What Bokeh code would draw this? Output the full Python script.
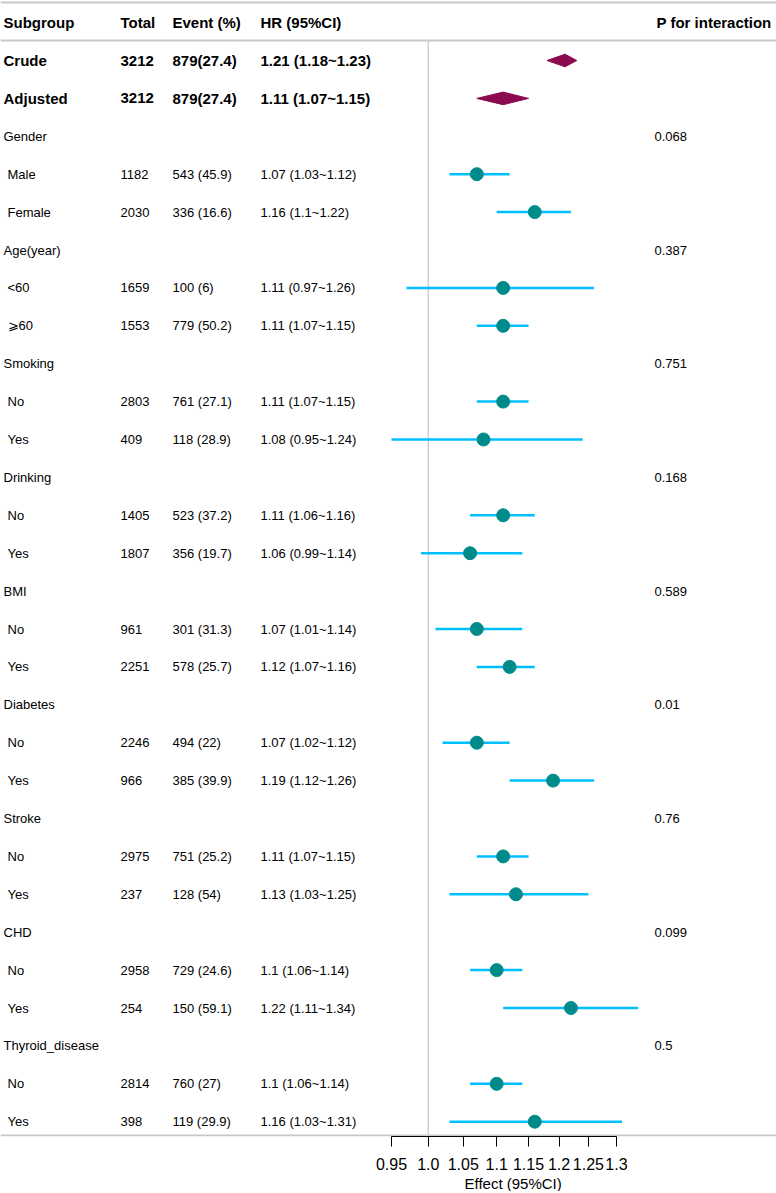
import math
from bokeh.plotting import figure
from bokeh.models import (Range1d, LogScale, LogAxis, FixedTicker,
                          CustomJSTickFormatter, ColumnDataSource, Title)
from bokeh.core.properties import value
from bokeh.embed import file_html
from bokeh.resources import INLINE

# ---------------- data ----------------
subgroups = ["Crude", "Adjusted", "Gender", "Male", "Female", "Age(year)", "<60", "\u2a7e60",
             "Smoking", "No", "Yes", "Drinking", "No", "Yes", "BMI", "No", "Yes",
             "Diabetes", "No", "Yes", "Stroke", "No", "Yes", "CHD", "No", "Yes",
             "Thyroid_disease", "No", "Yes"]
totals = ["3212", "3212", "", "1182", "2030", "", "1659", "1553", "", "2803", "409", "",
          "1405", "1807", "", "961", "2251", "", "2246", "966", "", "2975", "237", "",
          "2958", "254", "", "2814", "398"]
events = ["879(27.4)", "879(27.4)", "", "543 (45.9)", "336 (16.6)", "", "100 (6)", "779 (50.2)", "",
          "761 (27.1)", "118 (28.9)", "", "523 (37.2)", "356 (19.7)", "", "301 (31.3)", "578 (25.7)", "",
          "494 (22)", "385 (39.9)", "", "751 (25.2)", "128 (54)", "", "729 (24.6)", "150 (59.1)", "",
          "760 (27)", "119 (29.9)"]
hr = [1.21, 1.11, None, 1.07, 1.16, None, 1.11, 1.11, None, 1.11, 1.08, None, 1.11, 1.06, None,
      1.07, 1.12, None, 1.07, 1.19, None, 1.11, 1.13, None, 1.1, 1.22, None, 1.1, 1.16]
ci_low = [1.18, 1.07, None, 1.03, 1.1, None, 0.97, 1.07, None, 1.07, 0.95, None, 1.06, 0.99, None,
          1.01, 1.07, None, 1.02, 1.12, None, 1.07, 1.03, None, 1.06, 1.11, None, 1.06, 1.03]
ci_high = [1.23, 1.15, None, 1.12, 1.22, None, 1.26, 1.15, None, 1.15, 1.24, None, 1.16, 1.14, None,
           1.14, 1.16, None, 1.12, 1.26, None, 1.15, 1.25, None, 1.14, 1.34, None, 1.14, 1.31]
p_interaction = ["", "", "0.068", "", "", "0.387", "", "", "0.751", "", "", "0.168", "", "",
                 "0.589", "", "", "0.01", "", "", "0.76", "", "", "0.099", "", "", "0.5", "", ""]
overall_rows = ["Crude", "Adjusted"]
headers = ["Subgroup", "Total", "Event (%)", "HR (95%CI)", "P for interaction"]
tick_labels = ["0.95", "1.0", "1.05", "1.1", "1.15", "1.2", "1.25", "1.3"]
axis_title = "Effect (95%CI)"

# ---------------- layout ----------------
W = 776
FRAME_H = 1136
ROW0_PX = 60.0
ROW_STEP = 37.9
PX_PER_LN = 717.3
REF_PX = 427.8
FONT = "Liberation Sans"

def row_of_px(px):
    return (px - ROW0_PX) / ROW_STEP

n = len(subgroups)
rows = list(range(n))
tick_values = [float(t) for t in tick_labels]

p = figure(frame_width=W, frame_height=FRAME_H,
           x_range=Range1d(0, W),
           y_range=Range1d(row_of_px(FRAME_H), row_of_px(0)),
           output_backend="svg", toolbar_location=None,
           x_axis_location=None, y_axis_location=None,
           min_border=0, outline_line_color=None)
p.xgrid.visible = False
p.ygrid.visible = False
p.extra_x_ranges = {"hr": Range1d(math.exp(-REF_PX / PX_PER_LN),
                                  math.exp((W - REF_PX) / PX_PER_LN))}
p.extra_x_scales = {"hr": LogScale()}

GRAY = "#c8c8c8"
# horizontal rules
p.segment(x0=[0, 0, 0], x1=[W, W, W],
          y0=[row_of_px(2), row_of_px(40), row_of_px(1135)],
          y1=[row_of_px(2), row_of_px(40), row_of_px(1135)],
          line_color=GRAY, line_width=2.2)
# reference line at HR = 1
p.segment(x0=[1.0], x1=[1.0], y0=[row_of_px(40)], y1=[row_of_px(1136)],
          x_range_name="hr", line_color="#d0d0d0", line_width=1.5)

# CI lines & points (subgroup rows)
sub_idx = [i for i in rows if hr[i] is not None and subgroups[i] not in overall_rows]
src = ColumnDataSource(dict(y=[i for i in sub_idx], hr=[hr[i] for i in sub_idx],
                            lo=[ci_low[i] for i in sub_idx], hi=[ci_high[i] for i in sub_idx]))
p.segment(x0="lo", x1="hi", y0="y", y1="y", source=src, x_range_name="hr",
          line_color="#00BFFF", line_width=2.5)
p.scatter(x="hr", y="y", source=src, x_range_name="hr", size=13,
          fill_color="#008B8B", line_color="#008B8B")

# diamonds for overall rows
ov_idx = [i for i in rows if subgroups[i] in overall_rows]
hh = 6.3 / ROW_STEP
p.patches(xs=[[ci_low[i], hr[i], ci_high[i], hr[i]] for i in ov_idx],
          ys=[[i, i - hh, i, i + hh] for i in ov_idx],
          x_range_name="hr", fill_color="#8B0A50", line_color="#8B0A50")

# table text
hr_text = ["" if hr[i] is None else f"{hr[i]} ({ci_low[i]}~{ci_high[i]})" for i in rows]
COLS = [3, 120, 172, 260]

def add_text(xs, ys, texts, bold, size, align="left"):
    p.text(x=xs, y=ys, text=texts, text_font=value(FONT),
           text_font_style="bold" if bold else "normal",
           text_font_size=size, text_baseline="middle", text_align=align,
           text_color="black")

# header
add_text(COLS, [-1] * 4, headers[:4], True, "15px")
add_text([771], [-1], [headers[4]], True, "15px", align="right")

# overall rows (bold)
for i in ov_idx:
    add_text(COLS, [i] * 4, [subgroups[i], totals[i], events[i], hr_text[i]], True, "15px")

# other rows
norm_idx = [i for i in rows if i not in ov_idx]
sx, sy, st = [], [], []
for i in norm_idx:
    indent = 4 if totals[i] else 0
    sx.append(COLS[0] + indent); sy.append(i); st.append(subgroups[i])
    if totals[i]:
        for c, txt in zip(COLS[1:], [totals[i], events[i], hr_text[i]]):
            sx.append(c); sy.append(i); st.append(txt)
add_text(sx, sy, st, False, "13px")
p_idx = [i for i in rows if p_interaction[i]]
add_text([654] * len(p_idx), p_idx, [p_interaction[i] for i in p_idx], False, "13px")

# axis
fmt = CustomJSTickFormatter(args=dict(vals=tick_values, labs=tick_labels), code="""
const i = vals.findIndex(v => Math.abs(v - tick) < 1e-9);
return i >= 0 ? labs[i] : '';
""")
ax = LogAxis(x_range_name="hr", ticker=FixedTicker(ticks=tick_values), formatter=fmt,
             bounds=(tick_values[0], tick_values[-1]),
             axis_line_color="black", axis_line_width=1,
             major_tick_line_color="black", major_tick_in=0, major_tick_out=10,
             minor_tick_line_color=None, major_label_standoff=11,
             major_label_text_font=FONT, major_label_text_font_size="16px",
             major_label_text_color="black")
p.add_layout(ax, "below")
p.add_layout(Title(text=axis_title, align="left", offset=464, standoff=0,
                   text_font=FONT, text_font_size="15px", text_font_style="normal",
                   text_color="black"), "below")

open("out.html", "w").write(file_html(p, INLINE))
